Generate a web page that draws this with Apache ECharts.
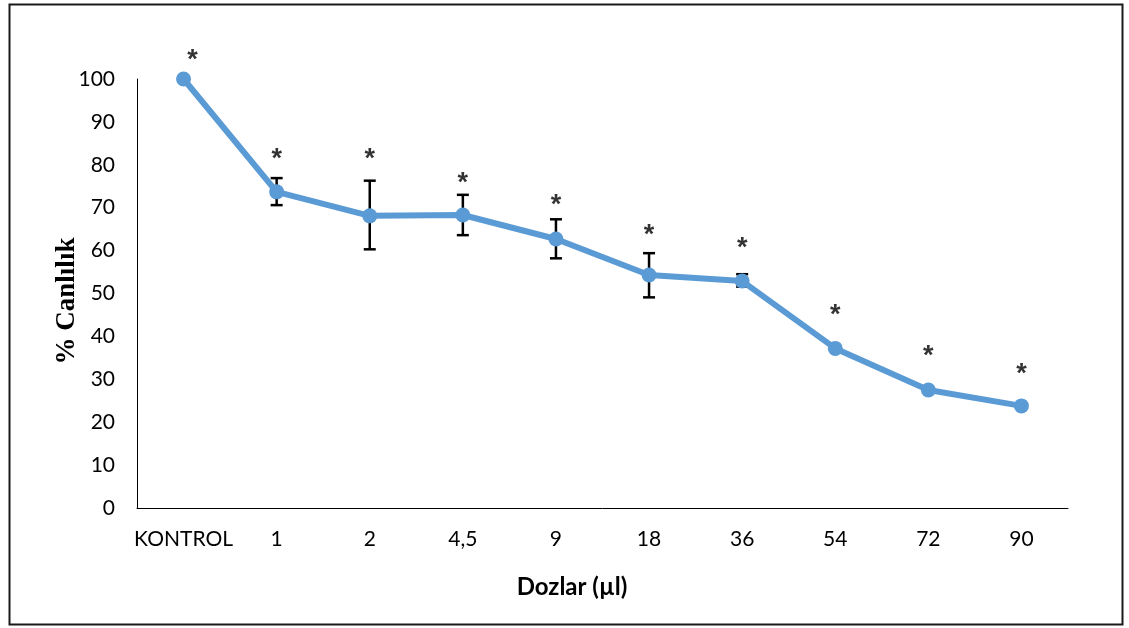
<!DOCTYPE html>
<html>
<head>
<meta charset="utf-8">
<script src="https://cdn.jsdelivr.net/npm/echarts@6/dist/echarts.min.js"></script>
<style>
html,body{margin:0;padding:0;background:#fff;}
#chart{width:1129px;height:628px;}
</style>
</head>
<body>
<div id="chart"></div>
<script>
var categories = ['KONTROL', '1', '2', '4,5', '9', '18', '36', '54', '72', '90'];
var viability = [100, 73.7, 68.1, 68.3, 62.7, 54.3, 52.9, 37.2, 27.5, 23.8];
var errLow = [100, 70.6, 60.3, 63.6, 58.2, 49.1, 51.6, 36.8, 27.1, 23.5];
var errHigh = [100, 76.9, 76.3, 73.0, 67.3, 59.4, 54.5, 37.6, 27.9, 24.1];
var starPos = [105.8, 82.7, 82.7, 77.1, 71.8, 65.0, 61.8, 46.3, 36.7, 32.6];
var yTicks = [0, 10, 20, 30, 40, 50, 60, 70, 80, 90, 100];

var chart = echarts.init(document.getElementById('chart'), null, {renderer: 'canvas'});

var errData = categories.map(function (c, i) { return [i, errLow[i], errHigh[i]]; });
var starData = categories.map(function (c, i) {
  var item = {value: [i, starPos[i]]};
  if (i === 0) { item.label = {offset: [9, 6]}; }
  return item;
});

var option = {
  animation: false,
  backgroundColor: '#ffffff',
  grid: {left: 137, right: 61, top: 79, bottom: 120, containLabel: false},
  xAxis: {
    type: 'category',
    data: categories,
    boundaryGap: true,
    axisLine: {show: true, lineStyle: {color: '#000', width: 1}},
    axisTick: {show: false},
    axisLabel: {color: '#000', fontFamily: 'Lato', fontSize: 21, margin: 21, interval: 0},
    splitLine: {show: false}
  },
  yAxis: {
    type: 'value',
    min: yTicks[0],
    max: yTicks[yTicks.length - 1],
    interval: 10,
    axisLine: {show: true, lineStyle: {color: '#000', width: 1}},
    axisTick: {show: false},
    axisLabel: {color: '#000', fontFamily: 'Lato', fontSize: 21, margin: 22},
    splitLine: {show: false}
  },
  graphic: [
    {
      type: 'rect', left: 7, top: 2, z: 0,
      shape: {width: 1113, height: 620},
      style: {fill: 'none', stroke: '#1a1a1a', lineWidth: 2}
    },
    {
      type: 'text', x: 67, y: 301, rotation: Math.PI / 2,
      style: {text: '% Canlılık', fontFamily: 'Liberation Serif', fontWeight: 'bold', fontSize: 27,
        fill: '#000', align: 'center', verticalAlign: 'middle'}
    },
    {
      type: 'text', x: 572, y: 587,
      style: {text: 'Dozlar (µl)', fontFamily: 'Lato', fontWeight: 'bold', fontSize: 24,
        fill: '#000', align: 'center', verticalAlign: 'middle'}
    }
  ],
  series: [
    {
      type: 'custom',
      data: errData,
      z: 2,
      renderItem: function (params, api) {
        var x = api.value(0);
        var lo = api.coord([x, api.value(1)]);
        var hi = api.coord([x, api.value(2)]);
        var cap = 6;
        var st = {stroke: '#000', lineWidth: 2.5};
        return {
          type: 'group',
          children: [
            {type: 'line', shape: {x1: hi[0], y1: hi[1], x2: lo[0], y2: lo[1]}, style: st},
            {type: 'line', shape: {x1: hi[0] - cap, y1: hi[1], x2: hi[0] + cap, y2: hi[1]}, style: st},
            {type: 'line', shape: {x1: lo[0] - cap, y1: lo[1], x2: lo[0] + cap, y2: lo[1]}, style: st}
          ]
        };
      }
    },
    {
      type: 'line',
      data: viability,
      symbol: 'circle',
      symbolSize: 15,
      lineStyle: {color: '#5B9BD5', width: 6},
      itemStyle: {color: '#5B9BD5'},
      z: 3
    },
    {
      type: 'scatter',
      data: starData,
      symbol: 'circle',
      symbolSize: 2,
      itemStyle: {color: 'rgba(0,0,0,0)'},
      clip: false,
      z: 5,
      label: {
        show: true,
        position: 'inside',
        formatter: '*',
        color: '#000',
        fontFamily: 'Liberation Sans',
        fontWeight: 'bold',
        fontSize: 27,
        offset: [0, 6]
      }
    }
  ]
};
chart.setOption(option);
</script>
</body>
</html>
